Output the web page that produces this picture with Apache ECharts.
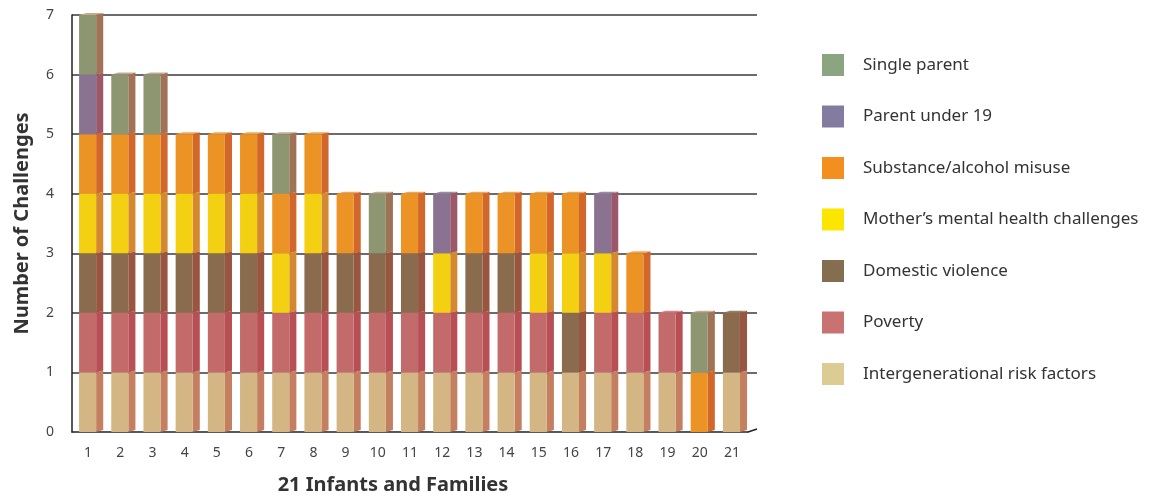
<!DOCTYPE html>
<html>
<head>
<meta charset="utf-8">
<script src="https://cdn.jsdelivr.net/npm/echarts@6/dist/echarts.min.js"></script>
<style>
  html, body { margin: 0; padding: 0; background: #fff; }
  #chart { width: 1150px; height: 493px; }
</style>
</head>
<body>
<div id="chart"></div>
<script>
// families on the x axis
const families = ['1','2','3','4','5','6','7','8','9','10','11','12','13','14','15','16','17','18','19','20','21'];

// 1 = family has this challenge, stacked bottom -> top in this order
const intergenerational = [1,1,1,1,1,1,1,1,1,1,1,1,1,1,1,1,1,1,1,0,1];
const poverty           = [1,1,1,1,1,1,1,1,1,1,1,1,1,1,1,0,1,1,1,0,0];
const domesticViolence  = [1,1,1,1,1,1,0,1,1,1,1,0,1,1,0,1,0,0,0,0,1];
const mentalHealth      = [1,1,1,1,1,1,1,1,0,0,0,1,0,0,1,1,1,0,0,0,0];
const substance         = [1,1,1,1,1,1,1,1,1,0,1,0,1,1,1,1,0,1,0,1,0];
const parentUnder19     = [1,0,0,0,0,0,0,0,0,0,0,1,0,0,0,0,1,0,0,0,0];
const singleParent      = [1,1,1,0,0,0,1,0,0,1,0,0,0,0,0,0,0,0,0,1,0];

const yTicks = [0, 7, 1]; // min, max, interval

const layers = [
  { name: 'Intergenerational risk factors', data: intergenerational, legend: '#dccb93', front: '#d4b584', side: '#c47e60', top: '#e2cba2' },
  { name: 'Poverty', data: poverty, legend: '#c87272', front: '#c36b6b', side: '#b84f55', top: '#d08484' },
  { name: 'Domestic violence', data: domesticViolence, legend: '#846e4f', front: '#8a6b4e', side: '#9a5541', top: '#9c7e62' },
  { name: "Mother\u2019s mental health challenges", data: mentalHealth, legend: '#fce600', front: '#f3d012', side: '#d4882f', top: '#f7dc4a' },
  { name: 'Substance/alcohol misuse', data: substance, legend: '#f28f1f', front: '#eb9324', side: '#d2672c', top: '#efa650' },
  { name: 'Parent under 19', data: parentUnder19, legend: '#847ba0', front: '#8a7390', side: '#9c5868', top: '#9e88a4' },
  { name: 'Single parent', data: singleParent, legend: '#8aa57f', front: '#8e9571', side: '#a07357', top: '#c9a890' }
];

const chart = echarts.init(document.getElementById('chart'));

// running stack per family
const base = families.map(() => 0);

function makeRender(layer) {
  return function (params, api) {
    const lo = api.coord([api.value(0), api.value(1)]);
    const hi = api.coord([api.value(0), api.value(2)]);
    const band = api.size([1, 0])[0];
    const fw = band * 0.53;
    const sw = band * 0.22;
    const lift = 2;
    const x0 = lo[0] - band * 0.28;
    const x1 = x0 + fw;
    const yb = lo[1];
    const yt = hi[1];
    return {
      type: 'group',
      children: [
        {
          type: 'polygon',
          shape: { points: [[x1, yt], [x1 + sw, yt - lift], [x1 + sw, yb - lift], [x1, yb]] },
          style: { fill: layer.side }
        },
        {
          type: 'polygon',
          shape: { points: [[x0, yt], [x0 + sw, yt - lift], [x1 + sw, yt - lift], [x1, yt]] },
          style: { fill: layer.top }
        },
        {
          type: 'rect',
          shape: { x: x0, y: yt, width: fw, height: yb - yt },
          style: { fill: layer.front }
        }
      ]
    };
  };
}

const series = layers.map(function (layer) {
  const rows = [];
  layer.data.forEach(function (v, i) {
    if (v > 0) {
      rows.push([i, base[i], base[i] + v]);
      base[i] += v;
    }
  });
  return {
    name: layer.name,
    type: 'custom',
    xAxisIndex: 0,
    yAxisIndex: 0,
    itemStyle: { color: layer.legend },
    renderItem: makeRender(layer),
    encode: { x: 0, y: [1, 2] },
    data: rows
  };
});

chart.setOption({
  animation: false,
  textStyle: { fontFamily: 'Noto Sans' },
  legend: {
    orient: 'vertical',
    left: 822,
    top: 54,
    padding: 0,
    itemWidth: 22,
    itemHeight: 22,
    itemGap: 29.5,
    icon: 'rect',
    data: layers.map(l => l.name).reverse(),
    textStyle: { fontSize: 17, color: '#333', padding: [0, 0, 0, 14], fontFamily: 'Noto Sans' }
  },
  grid: [
    { left: 72, right: 402, top: 15, bottom: 61, outerBoundsMode: 'none' },
    { left: 72, right: 393, top: 15, bottom: 61, outerBoundsMode: 'none' }
  ],
  xAxis: [
    {
      type: 'category',
      gridIndex: 0,
      data: families,
      name: '21 Infants and Families',
      nameLocation: 'middle',
      nameGap: 43,
      nameTextStyle: { fontSize: 20, fontWeight: 'bold', color: '#333', padding: [0, 34, 0, 0] },
      axisLine: { lineStyle: { color: '#222', width: 1.5 } },
      axisTick: { show: false },
      axisLabel: { fontSize: 14, color: '#444', margin: 14 }
    },
    { type: 'value', gridIndex: 1, show: false, min: 0, max: 1 }
  ],
  yAxis: [
    {
      type: 'value',
      gridIndex: 0,
      min: yTicks[0],
      max: yTicks[1],
      interval: yTicks[2],
      name: 'Number of Challenges',
      nameLocation: 'middle',
      nameGap: 40,
      nameTextStyle: { fontSize: 20, fontWeight: 'bold', color: '#333' },
      axisLine: { show: true, lineStyle: { color: '#222', width: 1.5 } },
      axisTick: { show: false },
      axisLabel: { fontSize: 14, color: '#444', margin: 18 },
      splitLine: { show: false }
    },
    {
      type: 'value',
      gridIndex: 1,
      min: yTicks[0],
      max: yTicks[1],
      interval: yTicks[2],
      axisLine: { show: false },
      axisTick: { show: false },
      axisLabel: { show: false },
      splitLine: { show: true, showMinLine: false, lineStyle: { color: '#3a3a3a', width: 1.5 } }
    }
  ],
  graphic: [
    {
      type: 'polyline',
      shape: { points: [[748, 432], [757, 429]] },
      style: { stroke: '#222', lineWidth: 1.5, fill: null }
    }
  ],
  series: series
});
</script>
</body>
</html>
